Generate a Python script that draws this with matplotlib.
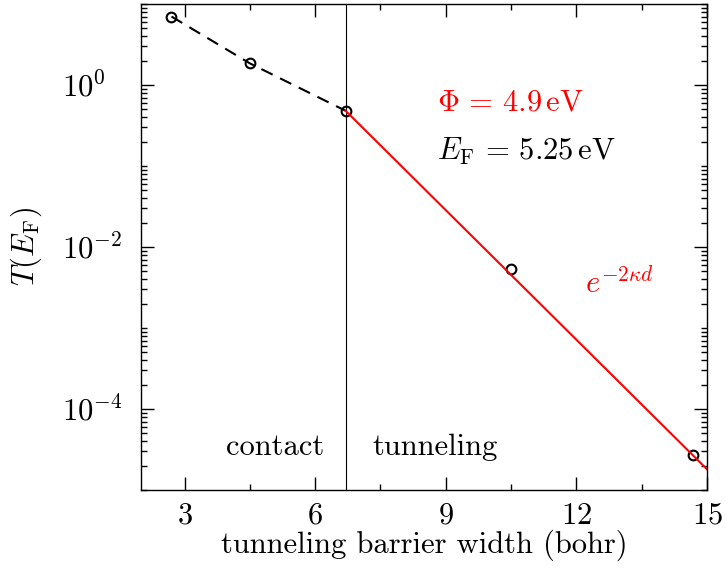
import numpy as np
import matplotlib
matplotlib.use('Agg')
import matplotlib.pyplot as plt
from matplotlib.ticker import MultipleLocator, LogLocator, NullFormatter, FixedLocator

plt.rcParams['font.family'] = 'serif'
plt.rcParams['font.serif'] = ['cmr10', 'DejaVu Serif']
plt.rcParams['mathtext.fontset'] = 'cm'
plt.rcParams['axes.formatter.use_mathtext'] = True
plt.rcParams['font.size'] = 22

# Datos: ancho de barrera (bohr) y transmisión T(E_F)
width_contact = [2.7, 4.5, 6.7]
trans_contact = [7.0, 1.85, 0.48]
width_tunnel = [10.5, 14.68]
trans_tunnel = [0.0053, 2.67e-5]

# Ajuste exponencial e^{-2 kappa d}
fit_x = [6.7, 15.0]
fit_y = [0.48, 1.8e-5]

boundary = 6.7
y_major = [1e-4, 1e-2, 1e0]

fig = plt.figure(figsize=(7.25, 5.7), dpi=100)
ax = fig.add_axes([0.1945, 0.1404, 0.7807, 0.8526])

ax.axvline(boundary, color='black', linewidth=0.8)
ax.plot(width_contact, trans_contact, color='black', linestyle=(0, (6, 4)), linewidth=1.5)
ax.plot(width_contact + width_tunnel, trans_contact + trans_tunnel, linestyle='none',
        marker='o', markersize=7, markerfacecolor='none', markeredgecolor='black',
        markeredgewidth=1.5)
ax.plot(fit_x, fit_y, color='red', linewidth=1.5)

ax.set_yscale('log')
ax.set_xlim(2, 15)
ax.set_ylim(1e-5, 1e1)

ax.xaxis.set_major_locator(MultipleLocator(3))
ax.xaxis.set_minor_locator(MultipleLocator(1.5))
ax.yaxis.set_major_locator(FixedLocator(y_major))
ax.yaxis.set_minor_locator(LogLocator(base=10, subs=np.arange(1, 10), numticks=20))
ax.yaxis.set_minor_formatter(NullFormatter())
ax.tick_params(which='both', direction='in', top=True, right=True)
ax.tick_params(which='major', length=9.5, width=1)
ax.tick_params(which='minor', length=4.5, width=1)
ax.tick_params(axis='x', pad=9)
ax.tick_params(axis='y', pad=57)
for s in ax.spines.values():
    s.set_linewidth(1)

ax.set_xlabel('tunneling barrier width (bohr)', labelpad=0)
ax.set_ylabel(r'$T(E_\mathrm{F})$')
ax.yaxis.set_label_coords(-0.172, 0.5)

ax.text(8.79, 0.6, r'$\Phi\,=\,4.9\,\mathrm{eV}$', color='red', ha='left', va='center')
ax.text(8.79, 0.15, r'$E_\mathrm{F}\,=\,5.25\,\mathrm{eV}$', color='black', ha='left', va='center')
ax.text(12.2, 0.0036, r'$e^{-2\kappa d}$', color='red', ha='left', va='center')
ax.text(6.22, 3.4e-5, 'contact', ha='right', va='center')
ax.text(7.32, 3.4e-5, 'tunneling', ha='left', va='center')

fig.canvas.draw()
for lab in ax.get_yticklabels():
    lab.set_horizontalalignment('left')

fig.savefig('out.png', dpi=100)
